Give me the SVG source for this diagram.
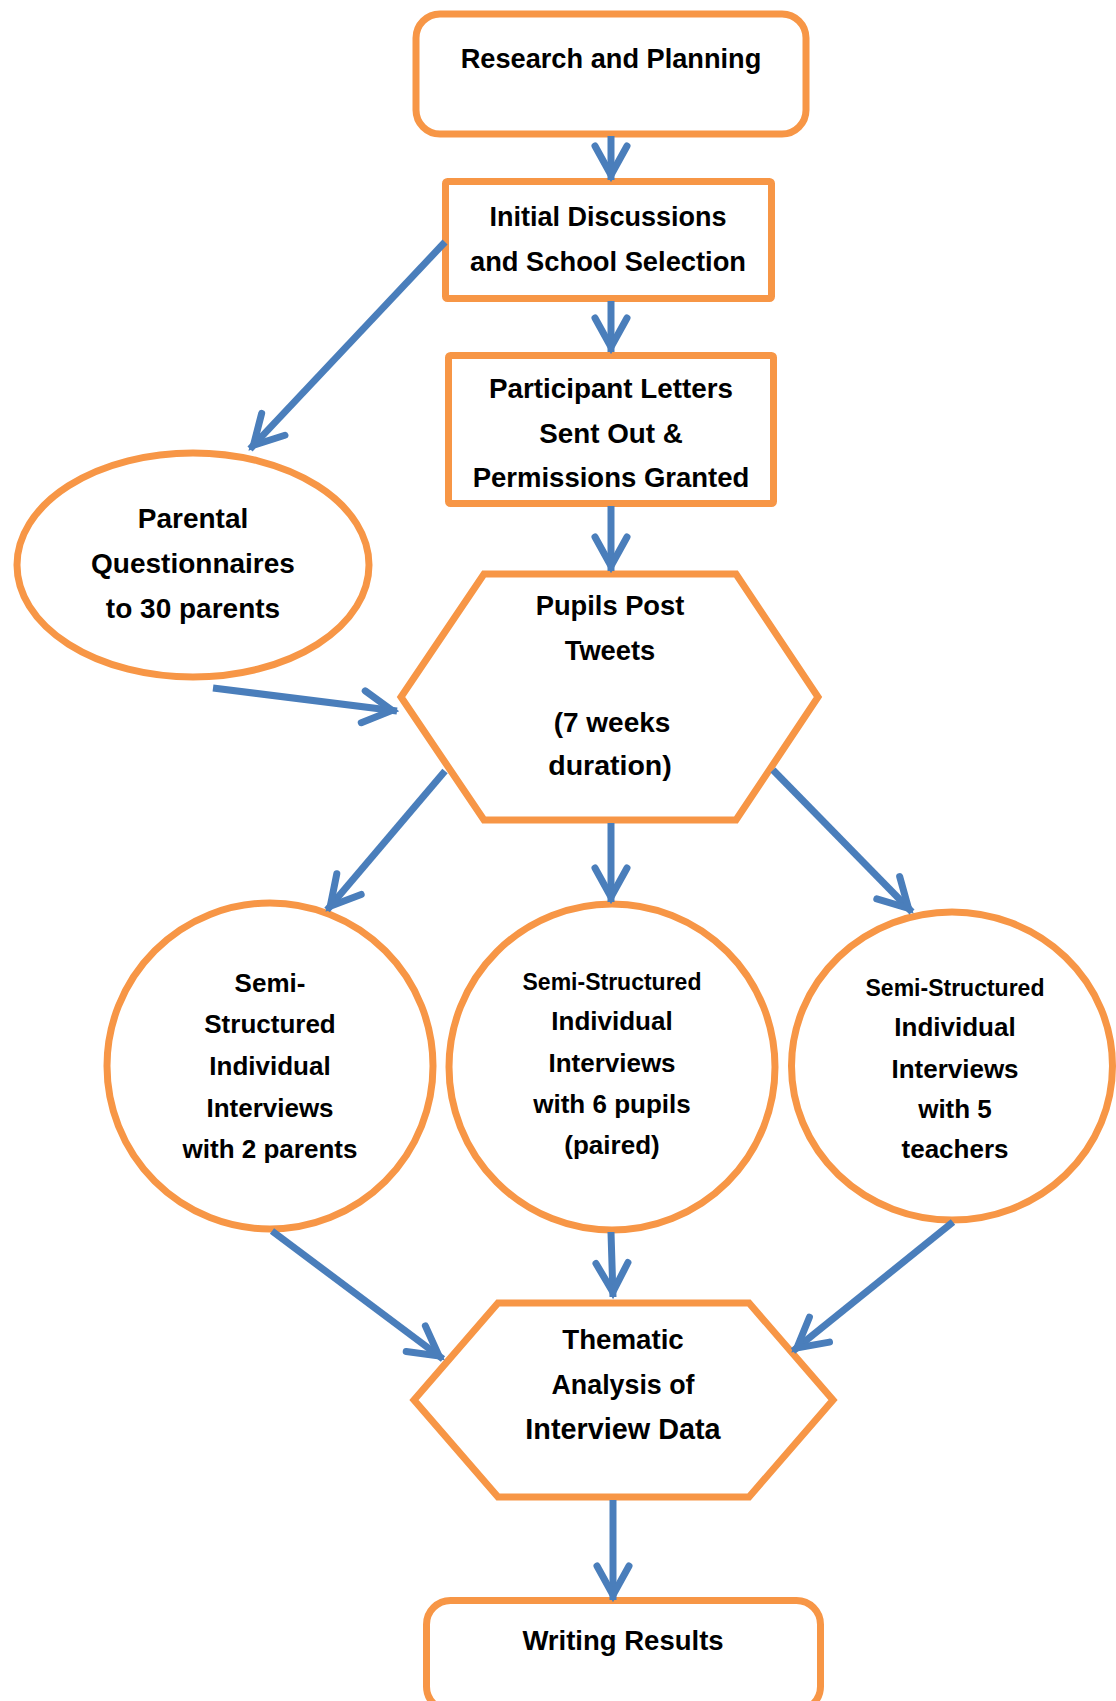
<svg xmlns="http://www.w3.org/2000/svg" width="1116" height="1701" viewBox="0 0 1116 1701">
<style>
.n{fill:#FFFFFF;stroke:#F79646;stroke-width:7;stroke-linejoin:miter}
.t{font-family:"Liberation Sans",Arial,sans-serif;font-weight:bold;font-size:26px;fill:#000000;text-anchor:middle}
.s{font-size:23px}
.c{fill:none;stroke:#4A7EBB;stroke-width:7;stroke-linecap:butt;marker-end:url(#ah)}
</style>
<defs>
<marker id="ah" markerUnits="userSpaceOnUse" viewBox="-45 -25 55 50" markerWidth="55" markerHeight="50" refX="0" refY="0" orient="auto" overflow="visible">
<path d="M-34,-16 L-5,0 L-34,16" fill="none" stroke="#4A7EBB" stroke-width="7" stroke-linecap="round" stroke-linejoin="miter"/>
</marker>
</defs>
<rect width="1116" height="1701" fill="#FFFFFF"/>
<g id="research">
<rect class="n" x="416" y="14" width="390" height="120" rx="24"/>
<text class="t" x="611" y="68" style="font-size:27.2px">Research and Planning</text>
</g>
<g id="initial" style="font-size:27px">
<rect class="n" x="445.5" y="181.5" width="326" height="117" rx="2"/>
<text class="t" x="608" y="226" style="font-size:27px">Initial Discussions</text>
<text class="t" x="608" y="271" style="font-size:27.3px">and School Selection</text>
</g>
<g id="participant">
<rect class="n" x="448.5" y="355.5" width="325" height="148" rx="2"/>
<text class="t" x="611" y="398" style="font-size:27.8px">Participant Letters</text>
<text class="t" x="611" y="443" style="font-size:27.8px">Sent Out &amp;</text>
<text class="t" x="611" y="487" style="font-size:27.5px">Permissions Granted</text>
</g>
<g id="parental">
<ellipse class="n" cx="193" cy="565" rx="176" ry="112"/>
<text class="t" x="193" y="528" style="font-size:28px">Parental</text>
<text class="t" x="193" y="573" style="font-size:28px">Questionnaires</text>
<text class="t" x="193" y="618" style="font-size:28px">to 30 parents</text>
</g>
<g id="tweets">
<polygon class="n" points="484,574 736,574 818,697 736,820 484,820 401,697"/>
<text class="t" x="610" y="615" style="font-size:27.3px">Pupils Post</text>
<text class="t" x="610" y="660" style="font-size:27.3px">Tweets</text>
<text class="t" x="612" y="732" style="font-size:28px">(7 weeks</text>
<text class="t" x="610" y="775" style="font-size:28.5px">duration)</text>
</g>
<g id="parents-interviews">
<circle class="n" cx="270" cy="1066" r="163"/>
<text class="t" x="270" y="992">Semi-</text>
<text class="t" x="270" y="1033">Structured</text>
<text class="t" x="270" y="1075">Individual</text>
<text class="t" x="270" y="1117">Interviews</text>
<text class="t" x="270" y="1158">with 2 parents</text>
</g>
<g id="pupils-interviews">
<circle class="n" cx="612" cy="1067" r="163"/>
<text class="t s" x="612" y="990">Semi-Structured</text>
<text class="t" x="612" y="1030">Individual</text>
<text class="t" x="612" y="1072">Interviews</text>
<text class="t" x="612" y="1113">with 6 pupils</text>
<text class="t" x="612" y="1154">(paired)</text>
</g>
<g id="teachers-interviews">
<ellipse class="n" cx="952" cy="1066" rx="160.5" ry="154"/>
<text class="t s" x="955" y="996">Semi-Structured</text>
<text class="t" x="955" y="1036">Individual</text>
<text class="t" x="955" y="1078">Interviews</text>
<text class="t" x="955" y="1118">with 5</text>
<text class="t" x="955" y="1158">teachers</text>
</g>
<g id="thematic">
<polygon class="n" points="498,1303 749,1303 833,1400 749,1497 498,1497 414,1400"/>
<text class="t" x="623" y="1349" style="font-size:27.7px">Thematic</text>
<text class="t" x="623" y="1394" style="font-size:26.8px">Analysis of</text>
<text class="t" x="623" y="1439" style="font-size:28.8px">Interview Data</text>
</g>
<g id="writing">
<rect class="n" x="426.5" y="1600.5" width="394" height="110" rx="24"/>
<text class="t" x="623" y="1650" style="font-size:27.5px">Writing Results</text>
</g>
<g id="connectors">
<line class="c" x1="611" y1="136" x2="611" y2="180"/>
<line class="c" x1="611" y1="301" x2="611" y2="352"/>
<line class="c" x1="611" y1="506" x2="611" y2="571"/>
<line class="c" x1="445" y1="242" x2="250" y2="449"/>
<line class="c" x1="213" y1="688" x2="397" y2="711"/>
<line class="c" x1="445" y1="771" x2="327" y2="910"/>
<line class="c" x1="611" y1="823" x2="611" y2="902"/>
<line class="c" x1="773" y1="770" x2="912" y2="912"/>
<line class="c" x1="272" y1="1231" x2="443" y2="1359"/>
<line class="c" x1="611" y1="1232" x2="613" y2="1297"/>
<line class="c" x1="953" y1="1222" x2="793" y2="1351"/>
<line class="c" x1="613" y1="1500" x2="613" y2="1600"/>
</g>
</svg>
